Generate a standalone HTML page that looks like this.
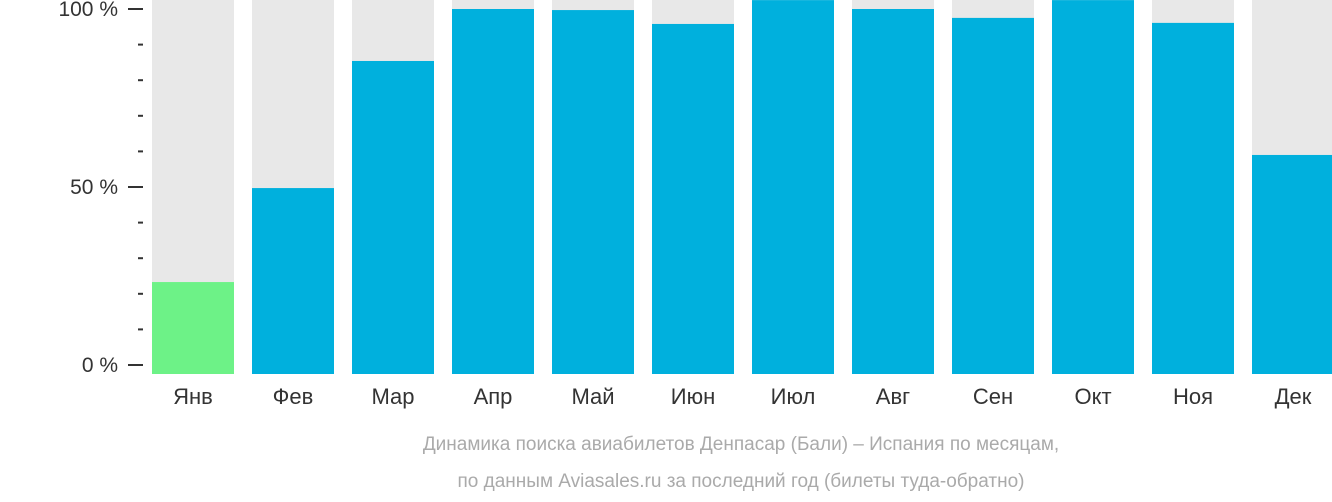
<!DOCTYPE html>
<html><head><meta charset="utf-8"><style>
body{margin:0;background:#fff;font-family:"Liberation Sans","DejaVu Sans",sans-serif}
svg{display:block}
</style></head><body>
<svg width="1332" height="502">
<g id="bars"></g>
<g id="axis"></g>
<g id="xl"></g>
<text x="741" y="450" text-anchor="middle" font-size="19" fill="#aaa">Динамика поиска авиабилетов Денпасар (Бали) – Испания по месяцам,</text>
<text x="741" y="487" text-anchor="middle" font-size="19" fill="#aaa">по данным Aviasales.ru за последний год (билеты туда-обратно)</text>
</svg>
<script>
const months=["Янв","Фев","Мар","Апр","Май","Июн","Июл","Авг","Сен","Окт","Ноя","Дек"];
const values=[23.3,49.7,85.4,100,99.7,95.8,102.5,100,97.5,102.5,96.1,59.0];
const tickLabels=["0 %","50 %","100 %"];
const tickValues=[0,50,100];
const NS="http://www.w3.org/2000/svg";
const y=v=>365-v*3.56;
const x=i=>152+i*100;
const bottom=374;
function mk(t,a,p){const e=document.createElementNS(NS,t);for(const k in a)e.setAttribute(k,a[k]);p.appendChild(e);return e;}
const bars=document.getElementById('bars'),axis=document.getElementById('axis'),xl=document.getElementById('xl');
values.forEach((v,i)=>{
 const bg=mk('rect',{x:x(i),y:0,width:82,height:bottom,fill:'#e8e8e8'},bars);
 
 
 const top=Math.max(0,y(v));
 const r=mk('rect',{x:x(i),y:top,width:82,height:bottom-top,fill:i===0?'#6df287':'#00b0dd'},bars);
 
 
 const t=mk('text',{x:x(i)+41,y:404,'text-anchor':'middle','font-size':22,fill:'#333'},xl);
 t.textContent=months[i];
 
 
});
for(let v=0;v<=100;v+=10){
 const major=tickValues.includes(v);
 const l=mk('line',{x1:major?128:138,x2:143,y1:y(v),y2:y(v),stroke:'#333','stroke-width':2},axis);
 
 
}
tickValues.forEach((v,i)=>{
 const t=mk('text',{x:118,y:y(v)+7,'text-anchor':'end','font-size':21,fill:'#333'},axis);
 t.textContent=tickLabels[i];
 
 
});
</script>
</body></html>
